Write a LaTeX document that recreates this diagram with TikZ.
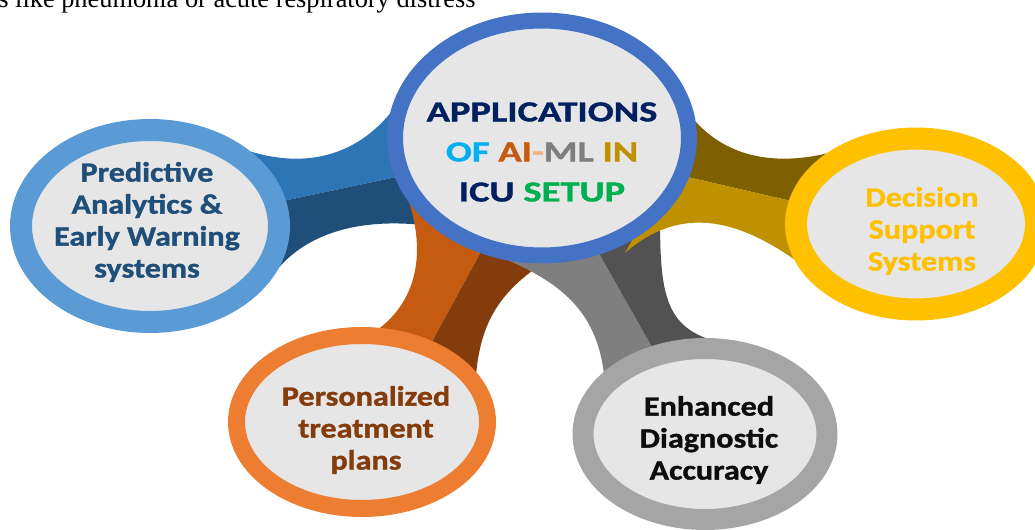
\documentclass[tikz,border=0pt]{standalone}
\usepackage{fontspec}
\setmainfont{Liberation Serif}
\newfontfamily\satfont{Carlito}[FakeStretch=1.15, FakeBold=1.2]
\newfontfamily\hubfont{Carlito}[FakeStretch=1.33, FakeBold=1.2]
\usetikzlibrary{shapes.geometric,calc,backgrounds}

\definecolor{discfill}{HTML}{E6E6E6}
\definecolor{hubring}{HTML}{4472C4}
\definecolor{navy}{HTML}{002060}
\definecolor{ofblue}{HTML}{00B0F0}
\definecolor{aiorange}{HTML}{C55A11}
\definecolor{dashpeach}{HTML}{F4B183}
\definecolor{mlgray}{HTML}{7F7F7F}
\definecolor{ingold}{HTML}{BF9000}
\definecolor{setupgreen}{HTML}{00B050}
\definecolor{predring}{HTML}{5B9BD5}
\definecolor{predup}{HTML}{2E75B6}
\definecolor{preddown}{HTML}{1F4E79}
\definecolor{persring}{HTML}{ED7D31}
\definecolor{persup}{HTML}{C55A11}
\definecolor{persdown}{HTML}{843C0C}
\definecolor{enhring}{HTML}{A5A5A5}
\definecolor{enhup}{HTML}{7F7F7F}
\definecolor{enhdown}{HTML}{525252}
\definecolor{enhtxt}{HTML}{0D0D0D}
\definecolor{decring}{HTML}{FFC000}
\definecolor{decup}{HTML}{7F6000}
\definecolor{decdown}{HTML}{BF9000}

\tikzset{
  disc/.style={ellipse, fill=discfill, inner sep=0pt},
  sattext/.style={font=\satfont\bfseries\fontsize{15.9}{18.2}\selectfont, align=center, inner sep=0pt},
  hubtext/.style={font=\hubfont\bfseries\fontsize{16.5}{22.8}\selectfont, align=center, inner sep=0pt}
}

\begin{document}
\begin{tikzpicture}[x=0.02cm, y=-0.02cm]
  \useasboundingbox (0,0) rectangle (1035,530);
  \clip (0,0) rectangle (1035,530);
  % Line of page text above the figure
  \node[anchor=base west, inner sep=0pt, font=\fontsize{15}{18}\selectfont] (pagetext) at (-2,7.3) {s like pneumonia or acute respiratory distress};
  % Hub
  \node[disc, draw=hubring, line width=0.32cm, minimum width=5.88cm, minimum height=4.7cm] (app) at (542,138) {};
  \node[hubtext] (app-t) at (542,152) {\textcolor{navy}{APPLICATIONS}\\
    \textcolor{ofblue}{OF} \textcolor{aiorange}{AI}\textcolor{dashpeach}{-}\textcolor{mlgray}{ML} \textcolor{ingold}{IN}\\
    \textcolor{navy}{ICU} \textcolor{setupgreen}{SETUP}};
  % Satellites
  \node[disc, draw=predring, line width=0.44cm, minimum width=5.16cm, minimum height=3.84cm] (pred) at (150,226) {};
  \node[sattext, text=preddown] (pred-t) at (147,222) {Predictive\\Analytics \&\\Early Warning\\systems};
  \node[disc, draw=persring, line width=0.34cm, minimum width=5.02cm, minimum height=3.46cm] (pers) at (362,422) {};
  \node[sattext, text=persdown] (pers-t) at (366,430) {Personalized\\treatment\\plans};
  \node[disc, draw=enhring, line width=0.42cm, minimum width=4.88cm, minimum height=3.42cm] (enh) at (705,434) {};
  \node[sattext, text=enhtxt] (enh-t) at (709,440) {Enhanced\\Diagnostic\\Accuracy};
  \node[disc, draw=decring, line width=0.44cm, minimum width=4.8cm, minimum height=3.42cm] (dec) at (916,224) {};
  \node[sattext, text=decring] (dec-t) at (922,231) {Decision\\Support\\Systems};
  % Arms behind the discs
  \begin{scope}[on background layer]
    % blue arm
    \fill[predup] ($(app)+(-142,-38)$) .. controls +(-40,60) and +(60,22) .. ($(pred)+(90,-78)$) -- ($(pred)+(100,-18)$) -- ($(app)+(-122,34)$) -- cycle;
    \fill[preddown] ($(app)+(-122,34)$) -- ($(pred)+(100,-18)$) -- ($(pred)+(126,45)$) .. controls +(24,-30) and +(-95,-16) .. ($(app)+(-97,90)$) -- cycle;
    % orange arm
    \fill[persup] ($(app)+(-138,50)$) .. controls +(21,52) and +(55,-35) .. ($(pers)+(8,-87)$) -- ($(pers)+(60,-62)$) -- ($(app)+(-59,110)$) -- cycle;
    \fill[persdown] ($(app)+(-59,110)$) -- ($(pers)+(60,-62)$) -- ($(pers)+(113,-32)$) .. controls +(3,-70) and +(-55,35) .. ($(app)+(13,117)$) -- cycle;
    % grey arm
    \fill[enhup] ($(app)+(-54,114)$) .. controls +(72,28) and +(-5,-75) .. ($(enh)+(-100,-49)$) -- ($(enh)+(-40,-64)$) -- ($(app)+(55,112)$) -- cycle;
    \fill[enhdown] ($(app)+(55,112)$) -- ($(enh)+(-40,-64)$) -- ($(enh)+(30,-89)$) .. controls +(-70,-10) and +(0,85) .. ($(app)+(118,77)$) -- cycle;
    % gold arm
    \fill[decup] ($(app)+(138,-38)$) .. controls +(35,60) and +(-75,27) .. ($(dec)+(-61,-79)$) -- ($(dec)+(-86,-14)$) -- ($(app)+(128,35)$) -- cycle;
    \fill[decdown] ($(app)+(128,35)$) -- ($(dec)+(-86,-14)$) -- ($(dec)+(-101,51)$) .. controls +(-75,-60) and +(55,-48) .. ($(app)+(83,115)$) -- cycle;
  \end{scope}
\end{tikzpicture}
\end{document}
